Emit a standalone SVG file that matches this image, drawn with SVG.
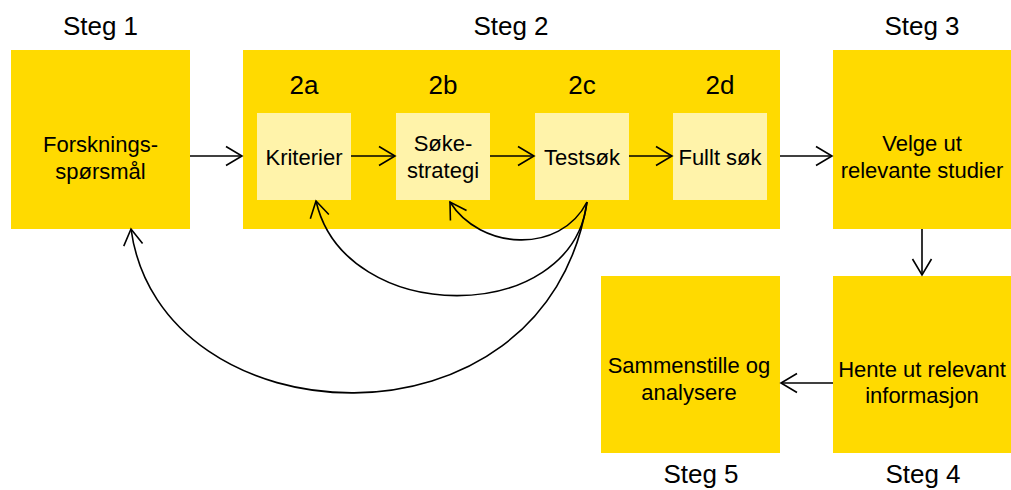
<svg xmlns="http://www.w3.org/2000/svg" width="1011" height="490" viewBox="0 0 1011 490">
<style>
.box{fill:#FFDA00}
.inner{fill:#FFF3AA}
text{font-family:"Liberation Sans",Arial,sans-serif;fill:#000;text-anchor:middle}
.step{font-size:26px}
.sub{font-size:26px}
.lbl{font-size:22px}
.con{fill:none;stroke:#000;stroke-width:1.6}
</style>
<defs>
<marker id="arr" viewBox="-18 -11 20 22" markerWidth="20" markerHeight="22" refX="0" refY="0" orient="auto" markerUnits="userSpaceOnUse" overflow="visible">
<path d="M-16,-9.5 L0,0 L-16,9.5" fill="none" stroke="#000" stroke-width="1.6"/>
</marker>
</defs>
<rect width="1011" height="490" fill="#fff"/>

<g id="steg1">
<text class="step" x="100.5" y="35">Steg 1</text>
<rect class="box" x="11" y="50" width="179" height="179"/>
<text class="lbl" x="100.5" y="152">Forsknings-</text>
<text class="lbl" x="100.5" y="179">spørsmål</text>
</g>

<g id="steg2">
<text class="step" x="511" y="35">Steg 2</text>
<rect class="box" x="243" y="50" width="537" height="179"/>
</g>

<g id="steg2a">
<text class="sub" x="304" y="94">2a</text>
<rect class="inner" x="257" y="113" width="94" height="87"/>
<text class="lbl" x="304" y="165">Kriterier</text>
</g>

<g id="steg2b">
<text class="sub" x="443" y="94">2b</text>
<rect class="inner" x="396" y="113" width="94" height="87"/>
<text class="lbl" x="443" y="151">Søke-</text>
<text class="lbl" x="443" y="178">strategi</text>
</g>

<g id="steg2c">
<text class="sub" x="582" y="94">2c</text>
<rect class="inner" x="535" y="113" width="94" height="87"/>
<text class="lbl" x="582" y="165">Testsøk</text>
</g>

<g id="steg2d">
<text class="sub" x="720" y="94">2d</text>
<rect class="inner" x="673" y="113" width="94" height="87"/>
<text class="lbl" x="720" y="165">Fullt søk</text>
</g>

<g id="steg3">
<text class="step" x="922" y="35">Steg 3</text>
<rect class="box" x="833" y="50" width="179" height="179"/>
<text class="lbl" x="922" y="151">Velge ut</text>
<text class="lbl" x="922" y="178">relevante studier</text>
</g>

<g id="steg4">
<rect class="box" x="833" y="276" width="179" height="177"/>
<text class="lbl" x="922" y="377">Hente ut relevant</text>
<text class="lbl" x="922" y="403">informasjon</text>
<text class="step" x="923" y="483">Steg 4</text>
</g>

<g id="steg5">
<rect class="box" x="601" y="276" width="179" height="177"/>
<text class="lbl" x="689" y="373">Sammenstille og</text>
<text class="lbl" x="689" y="400">analysere</text>
<text class="step" x="701" y="483">Steg 5</text>
</g>

<g id="connectors">
<path class="con" d="M190,156 L242,156" marker-end="url(#arr)"/>
<path class="con" d="M351,156 L395,156" marker-end="url(#arr)"/>
<path class="con" d="M490,156 L534,156" marker-end="url(#arr)"/>
<path class="con" d="M629,156 L672,156" marker-end="url(#arr)"/>
<path class="con" d="M780,156 L832,156" marker-end="url(#arr)"/>
<path class="con" d="M922,229 L922,275" marker-end="url(#arr)"/>
<path class="con" d="M833,383 L781,383" marker-end="url(#arr)"/>
<path class="con" d="M587,202 C560,255 480,250 450,202" marker-end="url(#arr)"/>
<path class="con" d="M587,202 C572,327 345,327 316,201" marker-end="url(#arr)"/>
<path class="con" d="M587,202 C545,462 160,442 131,229" marker-end="url(#arr)"/>
</g>
</svg>
